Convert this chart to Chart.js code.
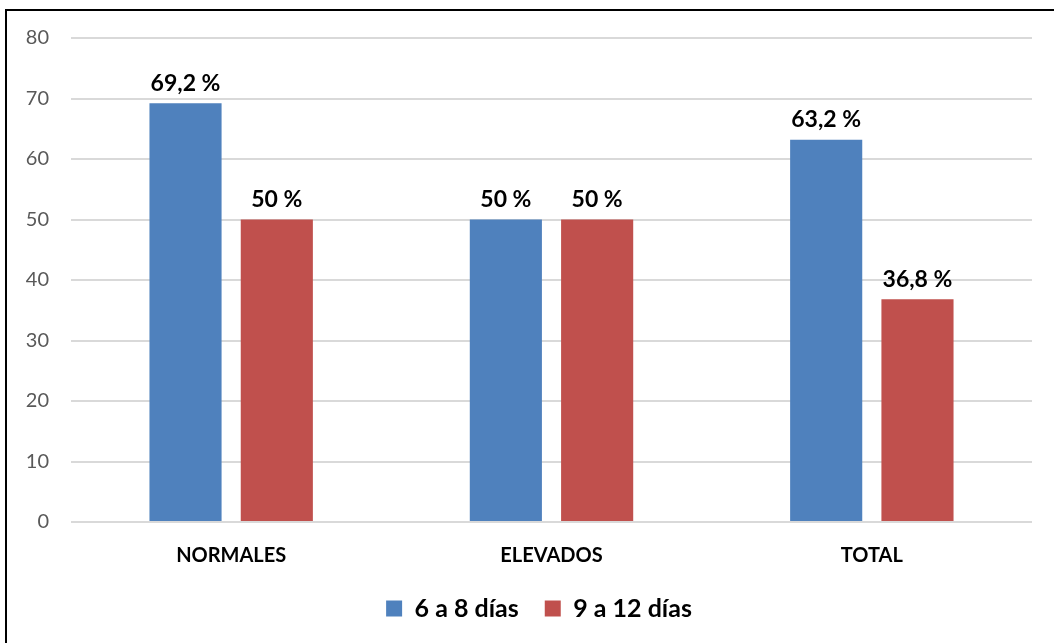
<!DOCTYPE html>
<html>
<head>
<meta charset="utf-8">
<script src="https://cdn.jsdelivr.net/npm/chart.js@4"></script>
<style>
  html, body { margin: 0; padding: 0; background: #fff; }
  #wrap { position: relative; width: 1054px; height: 643px; overflow: hidden; }
  #frame { position: absolute; left: 5px; top: 9px; right: -10px; bottom: -10px;
           border-top: 2px solid #000; border-left: 2px solid #000; pointer-events: none; }
  canvas { position: absolute; left: 0; top: 0; }
</style>
</head>
<body>
<div id="wrap">
  <canvas id="c" width="1054" height="643"></canvas>
  <div id="frame"></div>
</div>
<script>
// Groups along the x axis
const categories = ['NORMALES', 'ELEVADOS', 'TOTAL'];
// Percentage per group for each hospital-stay range
const stay6to8 = [69.2, 50, 63.2];
const stay9to12 = [50, 50, 36.8];
const seriesNames = ['6 a 8 días', '9 a 12 días'];
// Y axis range and step
const yMin = 0, yMax = 80, yStep = 10;

const FONT = 'Lato, "Open Sans", sans-serif';

function pct(v) {
  return String(v).replace('.', ',') + ' %';
}

// Writes each bar's value above it
const valueLabels = {
  id: 'valueLabels',
  afterDatasetsDraw(chart) {
    const ctx = chart.ctx;
    ctx.save();
    ctx.font = 'bold 23px ' + FONT;
    ctx.fillStyle = '#000';
    ctx.textAlign = 'center';
    ctx.textBaseline = 'middle';
    chart.data.datasets.forEach((ds, i) => {
      chart.getDatasetMeta(i).data.forEach((bar, j) => {
        ctx.fillText(pct(ds.data[j]), bar.x, bar.y - 20);
      });
    });
    ctx.restore();
  }
};

// Centres the legend row a little to the right of the canvas middle
const legendShift = {
  id: 'legendShift',
  afterLayout(chart) {
    const lg = chart.legend;
    if (!lg) return;
    const dx = 23;
    lg.left += dx;
    lg.right += dx;
    (lg.legendHitBoxes || []).forEach(b => { b.left += dx; });
  }
};

new Chart(document.getElementById('c'), {
  type: 'bar',
  data: {
    labels: categories,
    datasets: [
      { label: seriesNames[0], data: stay6to8, backgroundColor: '#4f81bd',
        categoryPercentage: 0.57, barPercentage: 0.79 },
      { label: seriesNames[1], data: stay9to12, backgroundColor: '#c0504d',
        categoryPercentage: 0.57, barPercentage: 0.79 }
    ]
  },
  options: {
    responsive: false,
    animation: false,
    events: [],
    layout: { padding: { left: 0, right: 22, top: 38, bottom: 12 } },
    plugins: {
      tooltip: { enabled: false },
      legend: {
        position: 'bottom',
        labels: {
          boxWidth: 16, boxHeight: 16, padding: 26,
          color: '#000',
          font: { family: FONT, size: 25, weight: 'bold' }
        }
      }
    },
    scales: {
      x: {
        grid: { display: false },
        border: { display: false },
        ticks: { color: '#000', padding: 14, font: { family: FONT, size: 20, weight: 'bold' } },
        afterFit(s) { s.height = 48; }
      },
      y: {
        min: yMin, max: yMax,
        grid: { color: '#d9d9d9', lineWidth: 2, drawTicks: false },
        border: { display: false },
        ticks: { stepSize: yStep, color: '#595959', padding: 22, font: { family: FONT, size: 20 } },
        afterFit(s) { s.width = 71; }
      }
    }
  },
  plugins: [valueLabels, legendShift]
});
</script>
</body>
</html>
